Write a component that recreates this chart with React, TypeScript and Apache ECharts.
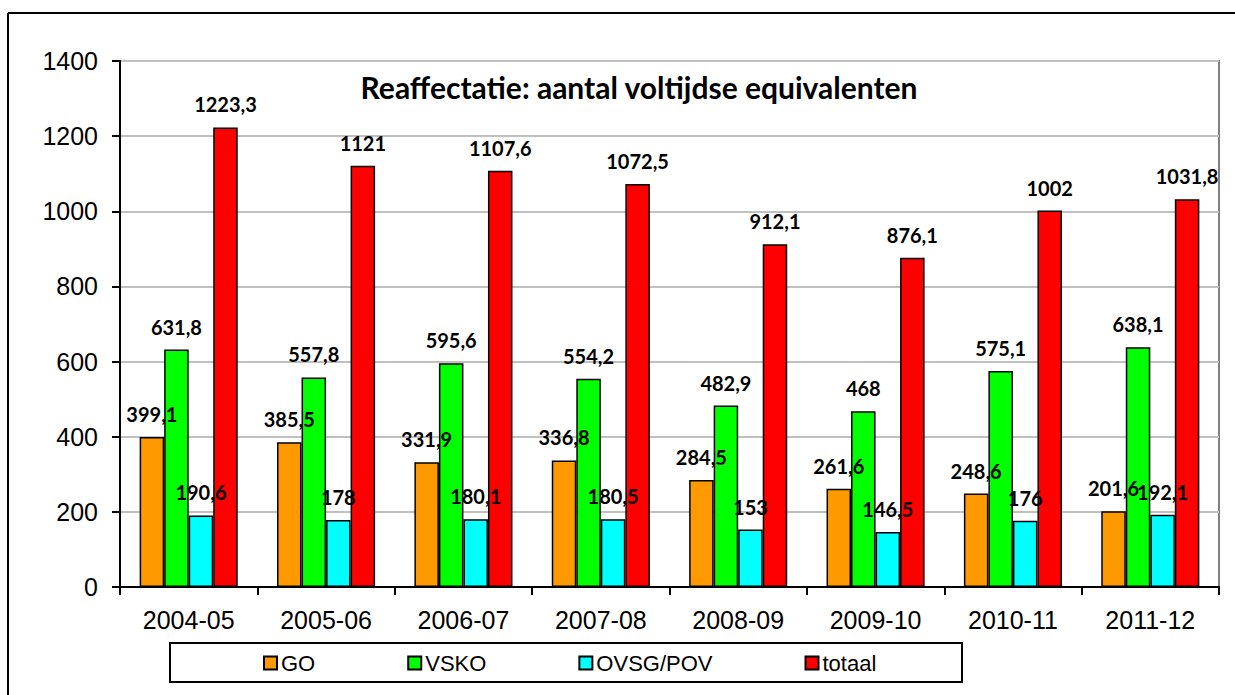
import React, { useEffect, useRef } from "react";
import * as echarts from "echarts";

const categories = ["2004-05", "2005-06", "2006-07", "2007-08", "2008-09", "2009-10", "2010-11", "2011-12"];
const goValues = [399.1, 385.5, 331.9, 336.8, 284.5, 261.6, 248.6, 201.6];
const vskoValues = [631.8, 557.8, 595.6, 554.2, 482.9, 468, 575.1, 638.1];
const ovsgValues = [190.6, 178, 180.1, 180.5, 153, 146.5, 176, 192.1];
const totaalValues = [1223.3, 1121, 1107.6, 1072.5, 912.1, 876.1, 1002, 1031.8];
const seriesNames = ["GO", "VSKO", "OVSG/POV", "totaal"];
const seriesColors = ["#FF9900", "#00FF00", "#00FFFF", "#FF0000"];
const titleText = "Reaffectatie: aantal voltijdse equivalenten";

export default function App() {
  const ref = useRef<HTMLDivElement>(null);
  useEffect(() => {
    document.body.style.margin = "0";
    if (!ref.current) return;
    const chart = echarts.init(ref.current, null, { renderer: "svg" });
    const allData = [goValues, vskoValues, ovsgValues, totaalValues];
    const labelFont = "Lato, 'Open Sans', sans-serif";
    const axisFont = "'Liberation Sans', Arial, sans-serif";
    chart.setOption({
      animation: false,
      backgroundColor: "#ffffff",
      grid: {
        left: 120,
        right: 16,
        top: 61,
        bottom: 108,
        show: true,
        borderColor: "#808080",
        borderWidth: 2,
        backgroundColor: "transparent",
      },
      legend: {
        data: seriesNames,
        left: 263,
        top: 652,
        padding: 0,
        itemGap: 92,
        itemWidth: 13,
        itemHeight: 13,
        icon: "rect",
        textStyle: { fontFamily: axisFont, fontSize: 22, color: "#000", padding: [0, 0, 0, -1] },
      },
      xAxis: {
        type: "category",
        data: categories,
        axisLine: { lineStyle: { color: "#000", width: 2 } },
        axisTick: { show: true, length: 8, lineStyle: { color: "#000", width: 2 } },
        axisLabel: { fontFamily: axisFont, fontSize: 25, color: "#000", margin: 20 },
      },
      yAxis: {
        type: "value",
        min: 0,
        max: 1400,
        interval: 200,
        axisLine: { show: true, lineStyle: { color: "#000", width: 2 } },
        axisTick: { show: true, length: 8, lineStyle: { color: "#000", width: 2 } },
        axisLabel: {
          fontFamily: axisFont,
          fontSize: 25,
          color: "#000",
          margin: 22,
          formatter: (v: number) => String(v),
        },
        splitLine: { lineStyle: { color: "#c0c0c0", width: 2 } },
      },
      graphic: [
        { type: "line", shape: { x1: 8, y1: 13, x2: 1235, y2: 13 }, style: { stroke: "#000", lineWidth: 2 } },
        { type: "line", shape: { x1: 8, y1: 13, x2: 8, y2: 695 }, style: { stroke: "#000", lineWidth: 2 } },
        { type: "rect", shape: { x: 170, y: 643, width: 792, height: 39 }, style: { fill: "none", stroke: "#000", lineWidth: 2 }, z: -1 },
        {
          type: "text",
          x: 639,
          y: 87,
          style: {
            text: titleText,
            fontFamily: labelFont,
            fontWeight: "bold",
            fontSize: 30,
            fill: "#000",
            textAlign: "center",
            textVerticalAlign: "middle",
          },
        },
      ],
      series: seriesNames.map((name, i) => ({
        name,
        type: "bar",
        data: allData[i],
        barGap: "0%",
        barCategoryGap: "28.6%",
        itemStyle: { color: seriesColors[i], borderColor: "#000", borderWidth: 1.5 },
        label: {
          show: true,
          position: "top",
          distance: 13,
          fontFamily: labelFont,
          fontWeight: "bold",
          fontSize: 20,
          color: "#000",
          formatter: (p: any) => String(p.value).replace(".", ","),
        },
      })),
    });
    return () => chart.dispose();
  }, []);
  return <div ref={ref} style={{ width: 1235, height: 695 }} />;
}
